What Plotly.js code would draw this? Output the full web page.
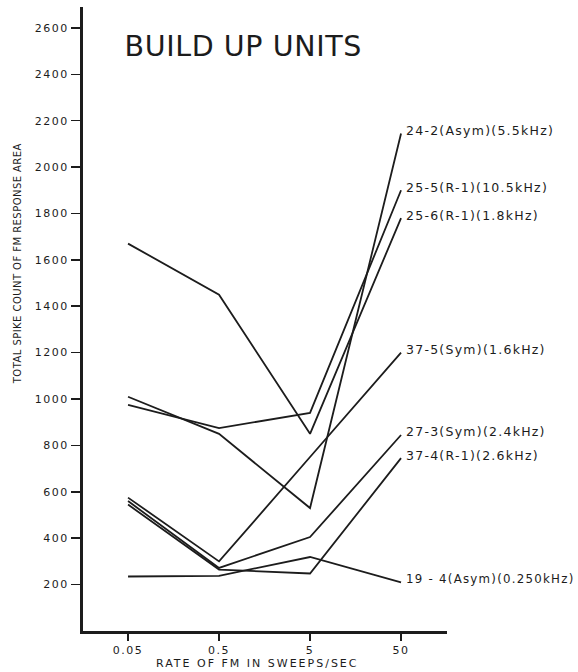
<!DOCTYPE html>
<html>
<head>
<meta charset="utf-8">
<script src="https://cdn.plot.ly/plotly-3.0.1.min.js"></script>
<style>
html,body{margin:0;padding:0;background:#fff;}
.ytick text, .xtick text { letter-spacing: 1.5px; }
.annotation-text { letter-spacing: 1.25px; }
g.annotation[data-index="7"] .annotation-text { letter-spacing: 0.6px; }
g.annotation[data-index="8"] .annotation-text { letter-spacing: 2px; }
g.annotation[data-index="9"] .annotation-text { letter-spacing: 0.45px; }
</style>
</head>
<body>
<div id="chart" style="width:578px;height:672px;"></div>
<script>
// Rate of FM (sweeps/sec)
const rates = [0.05, 0.5, 5, 50];
const rateTickText = ['0.05', '0.5', '5', '50'];
const yTickVals = [200, 400, 600, 800, 1000, 1200, 1400, 1600, 1800, 2000, 2200, 2400, 2600];

// Total spike count of FM response area, one array per unit
const unit_24_2 = [1010, 850, 530, 2145];
const unit_25_5 = [975, 875, 940, 1900];
const unit_25_6 = [1670, 1450, 850, 1780];
const unit_37_5 = [575, 300, 750, 1200];
const unit_27_3 = [560, 272, 405, 845];
const unit_37_4 = [545, 265, 248, 745];
const unit_19_4 = [235, 238, 319, 210];

const seriesNames = [
  '24-2(Asym)(5.5kHz)',
  '25-5(R-1)(10.5kHz)',
  '25-6(R-1)(1.8kHz)',
  '37-5(Sym)(1.6kHz)',
  '27-3(Sym)(2.4kHz)',
  '37-4(R-1)(2.6kHz)',
  '19 - 4(Asym)(0.250kHz)'
];
const seriesValues = [unit_24_2, unit_25_5, unit_25_6, unit_37_5, unit_27_3, unit_37_4, unit_19_4];

const ink = '#1c1c1c';
const font = 'DejaVu Sans, sans-serif';

const traces = seriesValues.map((vals, i) => ({
  type: 'scatter',
  mode: 'lines',
  x: rates,
  y: vals,
  name: seriesNames[i],
  line: {color: ink, width: 1.8},
  showlegend: false,
  hoverinfo: 'skip'
}));

const L = 83, R = 447, T = 7, B = 631;
const pw = R - L, ph = B - T;
const px = (x) => (x - L) / pw;
const py = (y) => (B - y) / ph;

const annotations = seriesValues.map((vals, i) => ({
  x: Math.log10(rates[rates.length - 1]),
  y: vals[vals.length - 1],
  xref: 'x', yref: 'y',
  text: seriesNames[i],
  showarrow: false,
  xanchor: 'left', yanchor: 'middle',
  xshift: 3, yshift: 3,
  font: {family: font, size: (i === seriesValues.length - 1) ? 11.8 : 12.5, color: ink}
}));

annotations.push({
  x: px(118), y: py(46), xref: 'paper', yref: 'paper',
  text: 'BUILD UP UNITS', showarrow: false,
  xanchor: 'left', yanchor: 'middle',
  font: {family: font, size: 28.5, color: ink}
});
annotations.push({
  x: px(257), y: py(663), xref: 'paper', yref: 'paper',
  text: 'RATE OF FM IN SWEEPS/SEC', showarrow: false,
  xanchor: 'center', yanchor: 'middle',
  font: {family: font, size: 11, color: ink}
});
annotations.push({
  x: px(17), y: py(264), xref: 'paper', yref: 'paper',
  text: 'TOTAL SPIKE COUNT OF FM RESPONSE AREA', showarrow: false,
  textangle: -90,
  xanchor: 'center', yanchor: 'middle',
  font: {family: font, size: 10, color: ink}
});

const layout = {
  width: 578, height: 672,
  margin: {l: L, r: 578 - R, t: T, b: 672 - B},
  paper_bgcolor: '#ffffff', plot_bgcolor: '#ffffff',
  showlegend: false,
  xaxis: {
    type: 'log',
    range: [-1.796, 2.204],
    tickvals: rates, ticktext: rateTickText,
    ticks: 'outside', ticklen: 7, tickwidth: 2, tickcolor: ink,
    showline: true, linecolor: ink, linewidth: 2.5,
    showgrid: false, zeroline: false,
    tickfont: {family: font, size: 11, color: ink}
  },
  yaxis: {
    range: [0, 2690],
    tickvals: yTickVals,
    ticks: 'outside', ticklen: 9, tickwidth: 1.5, tickcolor: ink,
    showline: true, linecolor: ink, linewidth: 3,
    showgrid: false, zeroline: false,
    tickfont: {family: font, size: 11, color: ink}
  },
  annotations: annotations
};

Plotly.newPlot('chart', traces, layout, {displayModeBar: false, staticPlot: true});
</script>
</body>
</html>
